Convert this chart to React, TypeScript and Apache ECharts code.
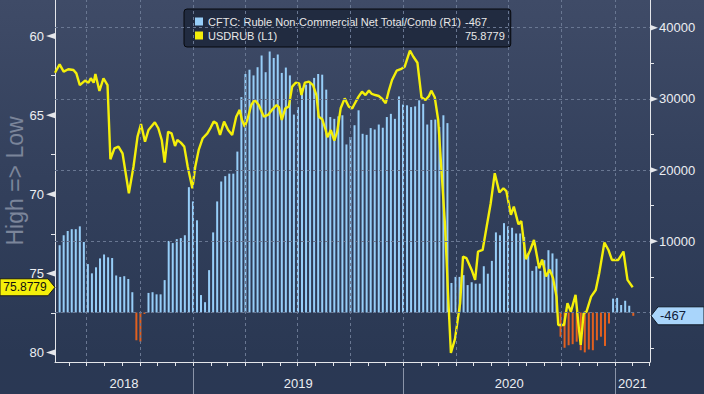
import React, { useEffect, useRef } from 'react';
import * as echarts from 'echarts';

const CFTC_NAME = 'CFTC: Ruble Non-Commercial Net Total/Comb (R1)';
const USD_NAME = 'USDRUB (L1)';
const LEFT_TITLE = 'High => Low';
const lastCftc = -467;
const lastUsdrub = 75.8779;

const xMin = '2018-05-07';
const xMax = '2021-03-03';
const barStart = '2018-05-15';

// weekly CFTC net positions (contracts)
const cftcNet = [
  9450, 10850, 11450, 11700, 11700, 12100, 9900, 6800, 5500, 6350, 7600, 8150, 7750, 7650, 5200, 5000, 5100, 4700, 2850, -3900, -4100, -200, 2750, 2850,
  2550, 2550, 4550, 10050, 9750, 10300, 10450, 10850, 17600, 15600, 12950, 2450, 1450, 5950, 11250, 15600, 18400, 19150, 19500, 19500, 22600, 30250, 33500, 34100, 33300,
  34450, 36100, 33750, 36650, 35750, 36250, 33650, 34400, 33300, 27800, 28850, 31500, 32000, 32300, 32950, 33500, 33400, 31300, 27450, 27200, 27550, 27700, 23600, 24650, 26300,
  28400, 25100, 24950, 25900, 25700, 26400, 25950, 27450, 27900, 27200, 30350, 29200, 29100, 28850, 28950, 29800, 29300, 26400, 27050, 27100, 26050, 27700, 26600, 4150, 5000,
  5000, 5250, 3850, 4250, 4050, 4050, 6500, 5450, 7250, 11250, 10850, 12550, 12100, 11900, 11100, 11100, 10600, 8300, 5850, 6500, 5850, 7350, 8750, 8300, 7550,
  -3400, -4950, -4600, -4450, -4100, -5300, -5600, -5200, -5300, -3900, -3400, -4700, -1550, 1950, 2050, 1050, 1650, 950, -467,
];

const usdrubDates = [
  '2018-05-07', '2018-05-15', '2018-05-22', '2018-05-30', '2018-06-08', '2018-06-13', '2018-06-19', '2018-06-28', '2018-07-04', '2018-07-08', '2018-07-13', '2018-07-16', '2018-07-23', '2018-07-30', '2018-08-06', '2018-08-11', '2018-08-18', '2018-08-25', '2018-09-01', '2018-09-12', '2018-09-20', '2018-09-27', '2018-10-03', '2018-10-10', '2018-10-16', '2018-10-27',
  '2018-11-02', '2018-11-08', '2018-11-13', '2018-11-19', '2018-11-25', '2018-12-01', '2018-12-05', '2018-12-11', '2018-12-17', '2018-12-23', '2018-12-31', '2019-01-05', '2019-01-11', '2019-01-18', '2019-01-26', '2019-02-01', '2019-02-06', '2019-02-11', '2019-02-17', '2019-02-24', '2019-03-03', '2019-03-10', '2019-03-17', '2019-03-23', '2019-03-27', '2019-04-01', '2019-04-06', '2019-04-12', '2019-04-18',
  '2019-04-25', '2019-05-04', '2019-05-11', '2019-05-18', '2019-05-26', '2019-05-30', '2019-06-04', '2019-06-10', '2019-06-16', '2019-06-22', '2019-06-28', '2019-07-04', '2019-07-08', '2019-07-14', '2019-07-21', '2019-07-28', '2019-08-03', '2019-08-07', '2019-08-13', '2019-08-19', '2019-08-22', '2019-08-28', '2019-09-03', '2019-09-08', '2019-09-14', '2019-09-21', '2019-09-28', '2019-10-04',
  '2019-10-08', '2019-10-15', '2019-10-21', '2019-10-27', '2019-11-02', '2019-11-07', '2019-11-13', '2019-11-19', '2019-11-24', '2019-12-01', '2019-12-06', '2019-12-12', '2019-12-20', '2019-12-27', '2020-01-03', '2020-01-12', '2020-01-18', '2020-01-25', '2020-02-01', '2020-02-08', '2020-02-14', '2020-02-18', '2020-02-24', '2020-03-01', '2020-03-07', '2020-03-13', '2020-03-18', '2020-03-23',
  '2020-03-30', '2020-04-08', '2020-04-13', '2020-04-19', '2020-04-28', '2020-05-04', '2020-05-09', '2020-05-17', '2020-05-24', '2020-05-31', '2020-06-07', '2020-06-15', '2020-06-22', '2020-06-27', '2020-07-05', '2020-07-10', '2020-07-18', '2020-07-23', '2020-07-31', '2020-08-07', '2020-08-14', '2020-08-23', '2020-08-28', '2020-09-04', '2020-09-10', '2020-09-16', '2020-09-22', '2020-09-25', '2020-10-05', '2020-10-11', '2020-10-17', '2020-10-25', '2020-10-31', '2020-11-03', '2020-11-08', '2020-11-13', '2020-11-21', '2020-11-29', '2020-12-05', '2020-12-14', '2020-12-21', '2020-12-27', '2021-01-07', '2021-01-16', '2021-01-23', '2021-02-01',
];

const usdrubValues = [
  62.32, 61.79, 62.25, 62.10, 62.15, 62.36, 63.10, 62.82, 62.95, 62.67, 62.95, 62.40, 63.47, 62.67, 63.10, 67.79, 67.10, 66.99, 67.41, 69.94, 68.26, 66.36, 65.56, 66.68, 65.94, 65.45,
  65.83, 66.57, 68.00, 66.05, 66.15, 66.95, 66.57, 66.74, 66.99, 68.26, 69.62, 68.26, 67.20, 66.46, 66.15, 65.77, 65.41, 65.52, 66.25, 65.41, 65.94, 66.25, 65.10, 64.67, 65.31, 65.73, 65.20, 64.36, 64.04,
  64.36, 65.10, 64.99, 64.67, 64.36, 64.50, 65.31, 64.57, 64.46, 63.20, 62.95, 62.99, 63.73, 62.95, 62.88, 63.10, 63.73, 65.10, 65.26, 65.94, 66.40, 65.94, 66.61, 66.05, 64.57, 63.94, 64.46, 64.57,
  64.30, 63.83, 63.52, 63.73, 63.45, 63.66, 63.73, 63.79, 63.94, 64.25, 63.52, 62.78, 62.19, 62.10, 61.94, 60.93, 61.31, 61.69, 63.87, 64.04, 63.79, 63.45, 63.87, 65.31, 68.67, 72.05, 76.25, 80.03,
  79.15, 76.90, 73.94, 74.04, 74.78, 75.41, 73.62, 73.52, 72.04, 70.57, 68.67, 69.89, 69.62, 69.80, 71.30, 70.78, 71.90, 71.70, 74.10, 73.57, 72.89, 74.68, 74.13, 75.20, 74.76, 75.30, 76.47, 78.26, 78.26, 76.89, 77.42, 76.36, 78.57, 79.52, 77.52, 77.42, 76.47, 76.05, 74.99, 73.05, 73.52, 74.15, 74.15, 73.62, 75.41, 75.8779,
];

const leftTicks = [60, 65, 70, 75, 80];
const leftMinorTicks = [62.5, 67.5, 72.5, 77.5];
const rightTicks = [10000, 20000, 30000, 40000];
const rightMinorTicks = [-5000, 5000, 15000, 25000, 35000];
const gridValues = [0, 10000, 20000, 30000, 40000];
const quarterLines = ['2018-07-01', '2018-10-01', '2019-01-01', '2019-04-01', '2019-07-01', '2019-10-01', '2020-01-01', '2020-04-01', '2020-07-01', '2020-10-01', '2021-01-01'];
const yearStarts = ['2019-01-01', '2020-01-01', '2021-01-01'];
const years = [2018, 2019, 2020, 2021];

const BLUE = '#97cef8';
const ORANGE = '#e2601f';
const YELLOW = '#f4ef0a';
const AXIS = '#e4e6ea';
const FONT = 'Liberation Sans';

const toTs = (s: string) => new Date(s + 'T00:00:00').getTime();
const DAY = 86400000;

export default function App() {
  const ref = useRef<HTMLDivElement>(null);
  useEffect(() => {
    const chart = echarts.init(ref.current!, null, { renderer: 'svg' });
    const minTs = toTs(xMin);
    const maxTs = toTs(xMax);
    const barDates = cftcNet.map((_, i) => toTs(barStart) + i * 7 * DAY);
    const monthTicks: number[] = [];
    for (let y = 2018; y <= 2021; y++) {
      for (let m = 0; m < 12; m++) {
        const t = new Date(y, m, 1).getTime();
        if (t > minTs && t < maxTs) monthTicks.push(t);
      }
    }
    const yearLabelTs = years.map((y) => {
      const a = Math.max(new Date(y, 0, 1).getTime(), minTs);
      const b = Math.min(new Date(y + 1, 0, 1).getTime(), maxTs);
      return (a + b) / 2;
    });
    const leftMin = 57.725;
    const leftMax = 80.6;

    const option: any = {
      animation: false,
      backgroundColor: 'transparent',
      textStyle: { fontFamily: FONT },
      grid: { left: 55, right: 54, top: 0, bottom: 32, containLabel: false, outerBoundsMode: 'none' },
      legend: {
        left: 184,
        top: 9,
        orient: 'vertical',
        icon: 'rect',
        itemWidth: 8,
        itemHeight: 8,
        itemGap: 1,
        padding: [6, 6, 5, 11],
        backgroundColor: '#212b40',
        borderColor: '#07090d',
        borderWidth: 1,
        borderRadius: 3,
        selectedMode: false,
        data: [
          { name: CFTC_NAME, itemStyle: { color: BLUE } },
          { name: USD_NAME, itemStyle: { color: YELLOW } },
        ],
        formatter: (name: string) => `{n|${name}}{v|${name === CFTC_NAME ? lastCftc : lastUsdrub}}`,
        textStyle: {
          color: '#e8e8e8',
          fontSize: 11,
          lineHeight: 13,
          fontFamily: FONT,
          rich: {
            n: { width: 257, fontSize: 11, color: '#e8e8e8', fontFamily: FONT },
            v: { width: 38, fontSize: 11, color: '#e8e8e8', fontFamily: FONT },
          },
        },
      },
      xAxis: [
        {
          type: 'value',
          min: minTs,
          max: maxTs,
          position: 'bottom',
          axisLine: { show: true, onZero: false, lineStyle: { color: AXIS, width: 1 } },
          axisTick: { show: true, customValues: monthTicks, length: 4, lineStyle: { color: AXIS } },
          axisLabel: { show: false },
          splitLine: { show: false },
        },
        {
          type: 'value',
          min: minTs,
          max: maxTs,
          position: 'bottom',
          offset: 6,
          axisLine: { show: false, onZero: false },
          axisTick: { show: true, customValues: yearStarts.map(toTs), length: 26, lineStyle: { color: '#8a94a8' } },
          axisLabel: {
            show: true,
            customValues: yearLabelTs,
            formatter: (v: number) => String(new Date(v).getFullYear()),
            color: '#eceef2',
            fontSize: 13,
            margin: 9,
            fontFamily: FONT,
          },
          splitLine: { show: false },
        },
      ],
      yAxis: [
        {
          type: 'value',
          inverse: true,
          min: leftMin,
          max: leftMax,
          position: 'left',
          axisLine: { show: true, onZero: false, lineStyle: { color: AXIS } },
          axisTick: { show: true, customValues: leftMinorTicks, length: 4, lineStyle: { color: AXIS } },
          axisLabel: { show: true, customValues: leftTicks, margin: 11, color: '#eceef2', fontSize: 13, fontFamily: FONT, formatter: (v: number) => String(v) },
          splitLine: { show: false },
        },
        {
          type: 'value',
          min: -6952,
          max: 43890,
          position: 'right',
          axisLine: { show: true, onZero: false, lineStyle: { color: AXIS } },
          axisTick: { show: true, customValues: rightMinorTicks, length: 4, lineStyle: { color: AXIS } },
          axisLabel: { show: true, customValues: rightTicks, margin: 9, color: '#eceef2', fontSize: 13, fontFamily: FONT, formatter: (v: number) => String(v) },
          splitLine: { show: false },
        },
      ],
      series: [
        {
          name: 'grid',
          type: 'line',
          xAxisIndex: 0,
          yAxisIndex: 1,
          data: [],
          z: 1,
          silent: true,
          markLine: {
            silent: true,
            symbol: ['none', 'none'],
            label: { show: false },
            lineStyle: { type: [3, 3], color: '#697792', width: 1 },
            data: [
              ...gridValues.map((v) => ({ yAxis: v })),
              ...quarterLines.map((d) => ({ xAxis: toTs(d) })),
            ],
          },
        },
        {
          name: CFTC_NAME,
          type: 'bar',
          xAxisIndex: 0,
          yAxisIndex: 1,
          barWidth: 2,
          z: 2,
          data: barDates.map((t, i) => [t, cftcNet[i]]),
          itemStyle: { color: (p: any) => (p.value[1] < 0 ? ORANGE : BLUE) },
        },
        {
          name: USD_NAME,
          type: 'line',
          xAxisIndex: 0,
          yAxisIndex: 0,
          z: 3,
          symbol: 'none',
          showSymbol: false,
          data: usdrubDates.map((d, i) => [toTs(d), usdrubValues[i]]),
          lineStyle: { color: YELLOW, width: 2.4 },
          itemStyle: { color: YELLOW },
        },
      ],
    };
    chart.setOption(option);

    const xl = chart.convertToPixel({ xAxisIndex: 0 }, minTs) as number;
    const xr = chart.convertToPixel({ xAxisIndex: 0 }, maxTs) as number;
    const yL = (v: number) => chart.convertToPixel({ yAxisIndex: 0 }, v) as number;
    const yR = (v: number) => chart.convertToPixel({ yAxisIndex: 1 }, v) as number;
    const elements: any[] = [];
    leftTicks.forEach((v) => {
      const y = yL(v);
      elements.push({ type: 'polygon', silent: true, shape: { points: [[xl, y - 3], [xl, y + 3], [xl - 9, y]] }, style: { fill: AXIS } });
    });
    rightTicks.forEach((v) => {
      const y = yR(v);
      elements.push({ type: 'polygon', silent: true, shape: { points: [[xr, y - 3], [xr, y + 3], [xr + 8, y]] }, style: { fill: AXIS } });
    });
    // rotated left axis title
    elements.push({
      type: 'text', silent: true, z: 5,
      x: 15, y: (yL(leftMin) + yL(leftMax)) / 2,
      rotation: Math.PI / 2,
      style: { text: LEFT_TITLE, fill: '#7b859a', font: `23px "${FONT}"`, textAlign: 'center', textVerticalAlign: 'middle', align: 'center', verticalAlign: 'middle' },
    });
    const ty = yL(lastUsdrub);
    elements.push({
      type: 'polygon', silent: true, z: 10,
      shape: { points: [[0, ty - 8.5], [48, ty - 8.5], [xl, ty], [48, ty + 8.5], [0, ty + 8.5]] },
      style: { fill: YELLOW, stroke: '#1a1a1a', lineWidth: 1 },
    });
    elements.push({
      type: 'text', silent: true, z: 11, x: 25, y: ty,
      style: { text: String(lastUsdrub), fill: '#111', font: `12px "${FONT}"`, textAlign: 'center', textVerticalAlign: 'middle', align: 'center', verticalAlign: 'middle' },
    });
    const ry = yR(lastCftc);
    elements.push({
      type: 'polygon', silent: true, z: 10,
      shape: { points: [[xr + 1, ry], [xr + 8, ry - 9], [704, ry - 9], [704, ry + 9], [xr + 8, ry + 9]] },
      style: { fill: '#a9d5fb', stroke: '#111a27', lineWidth: 1 },
    });
    elements.push({
      type: 'text', silent: true, z: 11, x: xr + 10, y: ry,
      style: { text: String(lastCftc), fill: '#10203a', font: `13px "${FONT}"`, textAlign: 'left', textVerticalAlign: 'middle', align: 'left', verticalAlign: 'middle' },
    });
    chart.setOption({ graphic: elements });

    return () => chart.dispose();
  }, []);

  return (
    <div
      ref={ref}
      style={{
        position: 'fixed',
        left: 0,
        top: 0,
        width: 704,
        height: 394,
        background: 'linear-gradient(180deg, #3f4b67 0%, #33405c 45%, #2a3853 90%, #2a3854 100%)',
      }}
    />
  );
}
